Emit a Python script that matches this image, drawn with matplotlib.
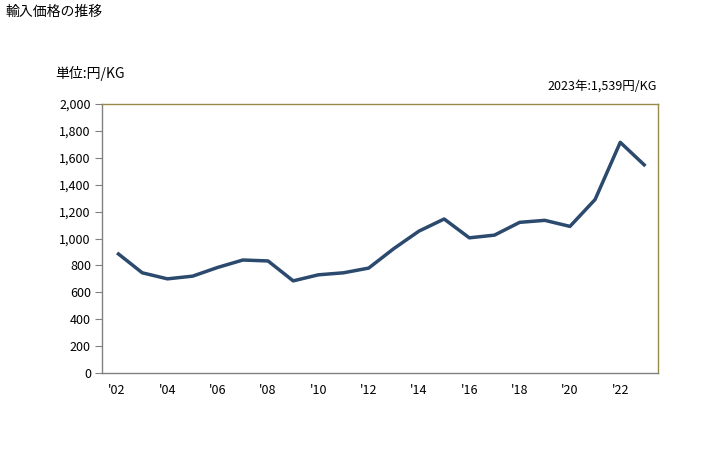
import matplotlib
matplotlib.use("Agg")
import matplotlib.pyplot as plt
from matplotlib.ticker import FuncFormatter

plt.rcParams['font.family'] = ['Noto Sans CJK JP', 'DejaVu Sans']

# data
years = list(range(2002, 2024))
prices = [893, 745, 700, 720, 785, 840, 833, 685, 730, 745, 780,
          925, 1055, 1145, 1005, 1025, 1120, 1135, 1090, 1290, 1715, 1539]
tick_years = list(range(2002, 2023, 2))

title = '輸入価格の推移'
unit = '単位:円/KG'
note = '2023年:1,539円/KG'

fig = plt.figure(figsize=(7.28, 4.5), dpi=100)
ax = fig.add_axes([102 / 728, 1 - 373 / 450, 556 / 728, 269 / 450])

ax.plot(years, prices, color='#2c4a6e', linewidth=2.5, solid_capstyle='butt')

ax.set_xlim(years[0] - 0.6, years[-1] + 0.5)
ax.set_ylim(0, 2000)
ax.set_yticks(range(0, 2001, 200))
ax.yaxis.set_major_formatter(FuncFormatter(lambda v, p: '{:,.0f}'.format(v)))
ax.set_xticks(tick_years)
ax.set_xticklabels(["'" + str(y)[2:] for y in tick_years])

ax.tick_params(axis='y', length=5, width=0.8, color='#808080', labelsize=9, pad=3)
ax.tick_params(axis='x', length=0, labelsize=9, pad=8)

for side in ['left', 'bottom']:
    ax.spines[side].set_color('#808080')
for side in ['top', 'right']:
    ax.spines[side].set_color('#9a8a4a')
for s in ax.spines.values():
    s.set_linewidth(1)

fig.text(5 / 728, 1 - 12 / 450, title, fontsize=10, va='center', ha='left')
fig.text(55 / 728, 1 - 73 / 450, unit, fontsize=10, va='center', ha='left')
fig.text(657 / 728, 1 - 86 / 450, note, fontsize=9, va='center', ha='right')

fig.savefig('out.png', dpi=100)
